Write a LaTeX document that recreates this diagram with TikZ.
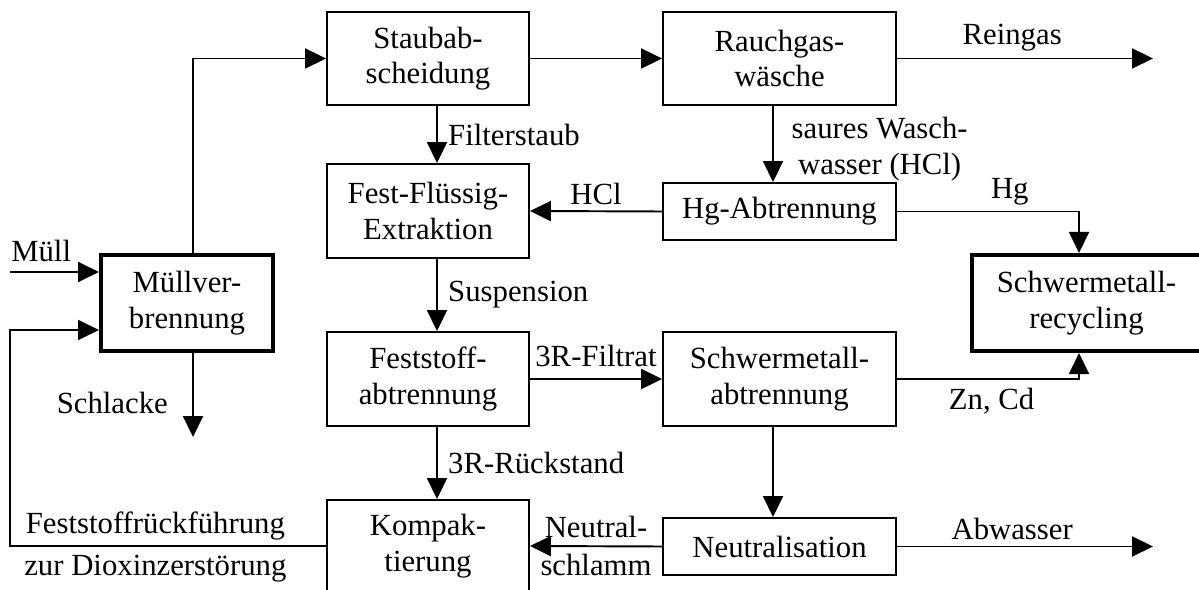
\documentclass[tikz,border=0pt]{standalone}
\usepackage{fontspec}
\setmainfont{Liberation Serif}
\usetikzlibrary{arrows.meta}

\tikzset{
  proc/.style={draw, line width=1.1pt, align=center, inner sep=0pt, minimum width=4.04cm, minimum height=1.88cm},
  mainproc/.style={proc, line width=2.3pt},
  flow/.style={line width=1.1pt, -{Triangle[length=0.42cm,width=0.4cm]}},
  lbl/.style={inner sep=3pt, align=center}
}

\begin{document}
\begin{tikzpicture}[x=0.02cm, y=-0.02cm, font=\fontsize{17.5}{20.3}\selectfont]
    \useasboundingbox (0,0) rectangle (1199,590);

    % boxes
    \node[mainproc, minimum width=3.44cm, minimum height=1.92cm] (muell) at (187,303) {Müllver-\\brennung};
    \node[proc, minimum height=1.86cm] (staub) at (428,58.5) {Staubab-\\scheidung};
    \node[proc, minimum width=4.66cm, minimum height=1.86cm] (rauch) at (779.5,58.5) {Rauchgas-\\wäsche};
    \node[proc] (extrakt) at (428,211) {Fest-Flüssig-\\Extraktion};
    \node[proc, minimum width=4.66cm, minimum height=1.14cm] (hg) at (779.5,211.5) {Hg-Abtrennung};
    \node[mainproc, minimum width=4.58cm, minimum height=1.92cm] (recyc) at (1086.5,303) {Schwermetall-\\recycling};
    \node[proc] (feststoff) at (428,379) {Feststoff-\\abtrennung};
    \node[proc, minimum width=4.66cm] (smab) at (779.5,379) {Schwermetall-\\abtrennung};
    \node[proc, minimum height=1.84cm] (kompakt) at (428,546) {Kompak-\\tierung};
    \node[proc, minimum width=4.66cm, minimum height=1.14cm] (neutral) at (779.5,546.5) {Neutralisation};

    % free ends
    \coordinate (muellin) at (10,272);
    \coordinate (reinout) at (1153,58.5);
    \coordinate (abwout) at (1153,546.5);
    \coordinate (schlackeout) at (193,437);

    % streams
    \draw[flow] (muellin) -- ([yshift=0.62cm]muell.west) node[lbl, pos=0.35, above, yshift=0.08cm] {Müll};
    \draw[flow] ([xshift=0.12cm]muell.north) |- (staub.west);
    \draw[flow] ([xshift=0.12cm]muell.south) -- (schlackeout) node[lbl, pos=0.6, left, xshift=-0.38cm] {Schlacke};
    \draw[flow] (staub.east) -- (rauch.west);
    \draw[flow] (rauch.east) -- (reinout) node[lbl, pos=0.45, above, yshift=0.02cm] {Reingas};
    \draw[flow] ([xshift=0.18cm]staub.south) -- ([xshift=0.18cm]extrakt.north) node[lbl, midway, right, xshift=0.1cm] {Filterstaub};
    \draw[flow] ([xshift=-0.13cm]rauch.south) -- ([xshift=-0.13cm]hg.north) node[lbl, midway, right, xshift=0.25cm, yshift=-0.1cm] {saures Wasch-\\wasser (HCl)};
    \draw[flow] (hg.west) -- (extrakt.east) node[lbl, midway, above] {HCl};
    \draw[flow] (hg.east) -| ([xshift=-0.15cm]recyc.north) node[lbl, pos=0.31, above] {Hg};
    \draw[flow] ([xshift=0.18cm]extrakt.south) -- ([xshift=0.18cm]feststoff.north) node[lbl, midway, right, xshift=0.1cm] {Suspension};
    \draw[flow] (feststoff.east) -- (smab.west) node[lbl, midway, above, yshift=0.12cm] {3R-Filtrat};
    \draw[flow] (smab.east) -| ([xshift=-0.15cm]recyc.south) node[lbl, pos=0.26, below, yshift=-0.05cm] {Zn, Cd};
    \draw[flow] ([xshift=0.18cm]feststoff.south) -- ([xshift=0.18cm]kompakt.north) node[lbl, midway, right, xshift=0.1cm] {3R-Rückstand};
    \draw[flow] ([xshift=-0.13cm]smab.south) -- ([xshift=-0.13cm]neutral.north);
    \draw[flow] (neutral.west) -- (kompakt.east) node[lbl, midway, above, yshift=0.04cm] {Neutral-} node[lbl, midway, below, yshift=-0.04cm] {schlamm};
    \draw[flow] (neutral.east) -- (abwout) node[lbl, pos=0.45, above] {Abwasser};
    % Rueckfuehrung
    \draw[flow] (kompakt.west) -- (kompakt.west -| muellin) node[lbl, pos=0.54, above] {Feststoffrückführung} node[lbl, pos=0.54, below, yshift=-0.05cm] {zur Dioxinzerstörung} |- ([yshift=-0.54cm]muell.west);
\end{tikzpicture}
\end{document}
